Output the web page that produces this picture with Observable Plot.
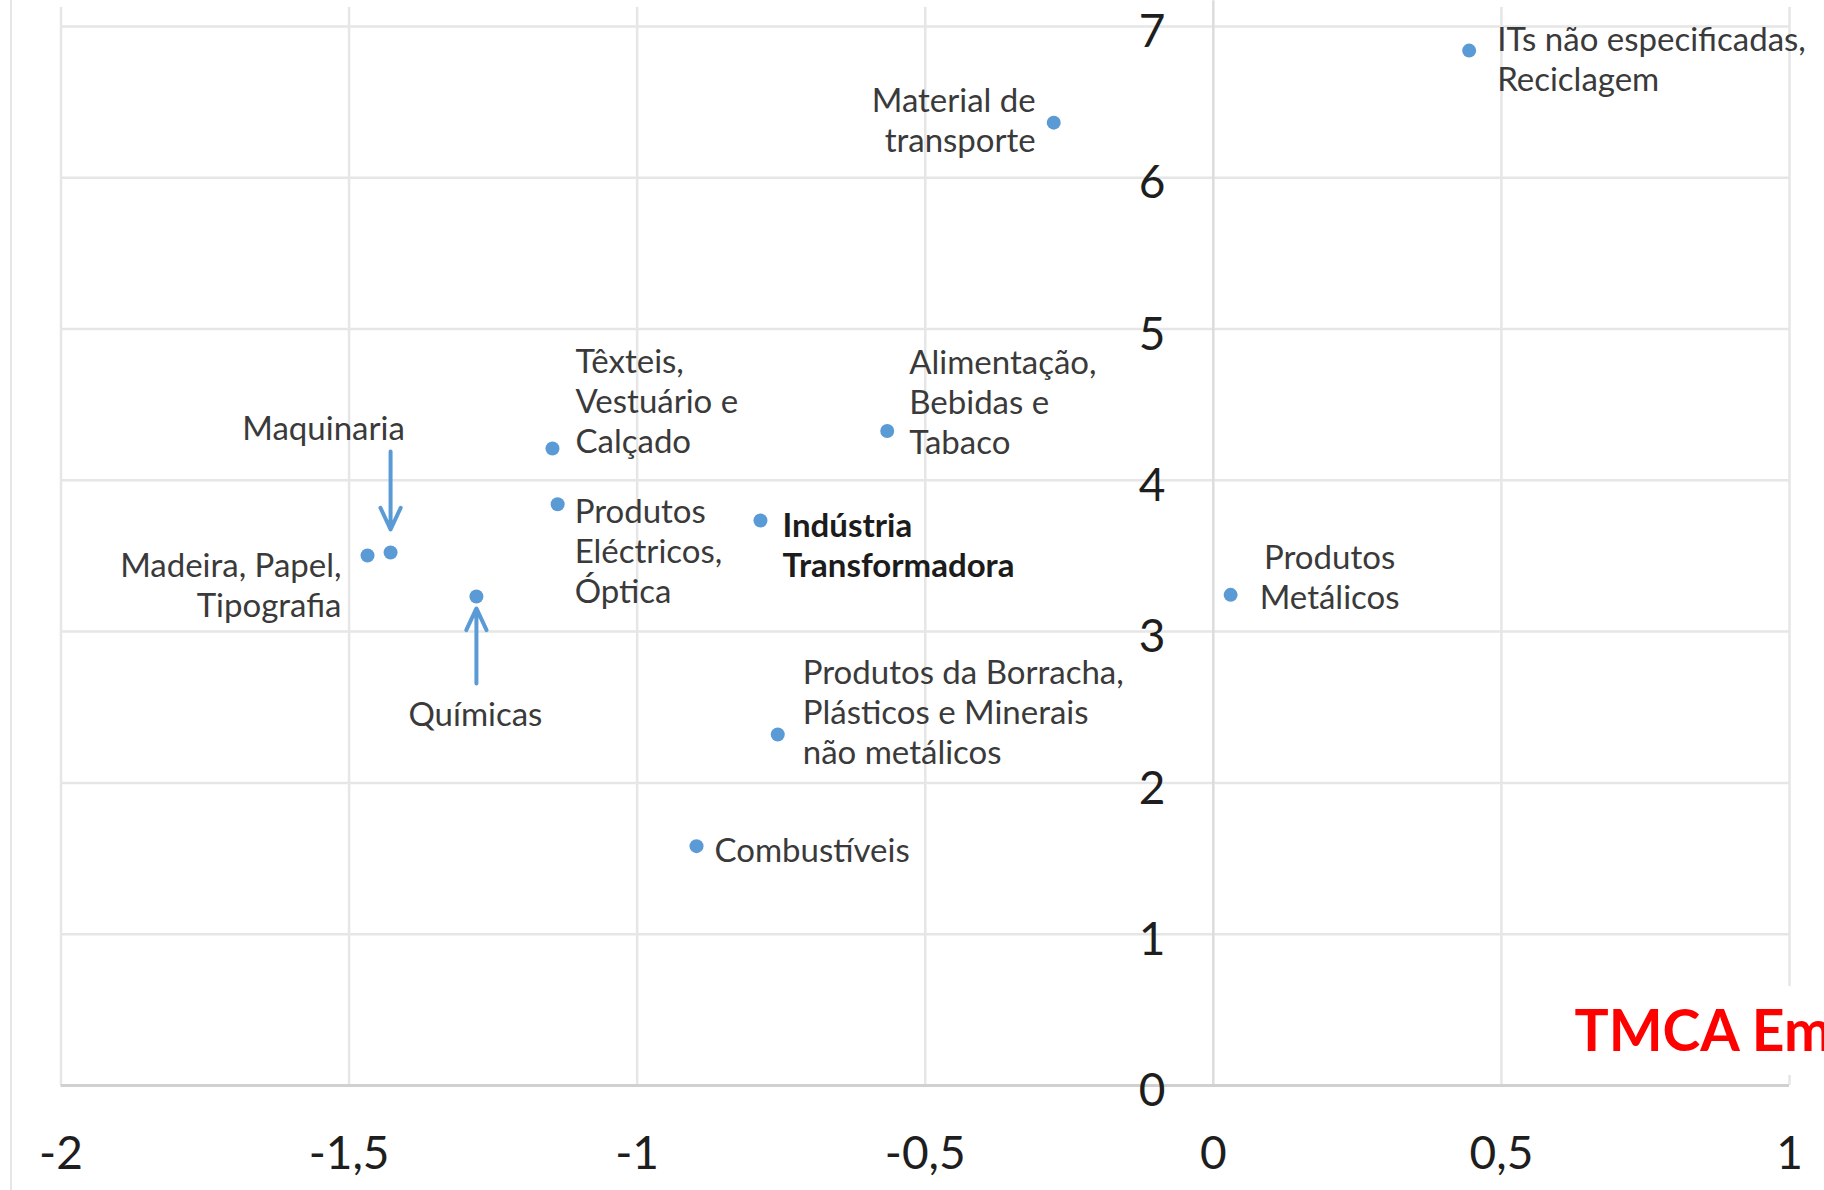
<!DOCTYPE html>
<html>
<head>
<meta charset="utf-8">
<script src="https://cdn.jsdelivr.net/npm/d3@7"></script>
<script src="https://cdn.jsdelivr.net/npm/@observablehq/plot@0.6"></script>
<style>
  html, body { margin: 0; padding: 0; background: #fff; overflow: hidden; }
  #wrap { position: relative; width: 1824px; height: 1190px; }
  #wrap .chart-border { position: absolute; left: 10px; top: 0; width: 0; height: 1190px; border-left: 2px solid #e6e6e6; }
</style>
</head>
<body>
<div id="wrap"><div class="chart-border"></div></div>
<script>
// ---- data ----
const sectors = [
  "ITs não especificadas,\nReciclagem",
  "Material de\ntransporte",
  "Alimentação,\nBebidas e\nTabaco",
  "Têxteis,\nVestuário e\nCalçado",
  "Produtos\nEléctricos,\nÓptica",
  "Indústria\nTransformadora",
  "Maquinaria",
  "Madeira, Papel,\nTipografia",
  "Químicas",
  "Produtos\nMetálicos",
  "Produtos da Borracha,\nPlásticos e Minerais\nnão metálicos",
  "Combustíveis"
];
const tmcaEmprego = [0.444, -0.277, -0.566, -1.147, -1.138, -0.786, -1.428, -1.468, -1.279, 0.030, -0.756, -0.897];
const tmcaOutro   = [6.84, 6.364, 4.326, 4.21, 3.842, 3.734, 3.523, 3.503, 3.232, 3.243, 2.32, 1.582];

const xTicks = [-2, -1.5, -1, -0.5, 0, 0.5, 1];
const xTickLabels = ["-2", "-1,5", "-1", "-0,5", "0", "0,5", "1"];
const yTicks = [0, 1, 2, 3, 4, 5, 6, 7];
const yTickLabels = ["0", "1", "2", "3", "4", "5", "6", "7"];

const axisTitle = "TMCA Em";

// annotation arrows (value at tail, value at head), same x as the sector
const arrowSectors = ["Maquinaria", "Químicas"];
const arrowFrom = [4.19, 2.657];
const arrowTo   = [3.675, 3.153];

// ---- layout (label placement relative to each point, in px) ----
const labelLayout = [
  {dx: 28,  dy: 8,    anchor: "start"},
  {dx: -18, dy: -3,   anchor: "end"},
  {dx: 22,  dy: -30,  anchor: "start"},
  {dx: 23,  dy: -48,  anchor: "start"},
  {dx: 17,  dy: 46,   anchor: "start"},
  {dx: 22,  dy: 24,   anchor: "start", bold: true},
  {dx: -67, dy: -125, anchor: "middle"},
  {dx: -26, dy: 29,   anchor: "end"},
  {dx: -1,  dy: 117,  anchor: "middle"},
  {dx: 99,  dy: -19,  anchor: "middle"},
  {dx: 25,  dy: -23,  anchor: "start"},
  {dx: 18,  dy: 3,    anchor: "start"}
];

const points = sectors.map((s, i) => ({name: s, x: tmcaEmprego[i], y: tmcaOutro[i]}));
const arrows = arrowSectors.map((n, i) => {
  const p = points.find(d => d.name === n);
  return {x: p.x, y1: arrowFrom[i], y2: arrowTo[i]};
});

const blue = "#5b9bd5";
const gridColor = "#e6e6e6";

const labelMarks = points.map((p, i) => {
  const L = labelLayout[i];
  return Plot.text([p], {
    x: "x", y: "y", text: "name",
    dx: L.dx, dy: L.dy, textAnchor: L.anchor,
    lineAnchor: "middle", lineHeight: 1.21,
    fontSize: 33, fontWeight: L.bold ? "bold" : "normal",
    fill: L.bold ? "#1c1c1c" : "#3a3a3a"
  });
});

const chart = Plot.plot({
  width: 1824,
  height: 1190,
  marginLeft: 60.5,
  marginRight: 35,
  marginTop: 7,
  marginBottom: 105,
  x: {domain: [-2, 1], axis: null},
  y: {domain: [0, 7.125], axis: null},
  style: {fontFamily: "Lato, 'Open Sans', sans-serif", background: "white", overflow: "hidden"},
  marks: [
    Plot.ruleY(yTicks.filter(d => d !== 0), {stroke: gridColor, strokeWidth: 2.5}),
    Plot.ruleX(xTicks.filter(d => d !== 0), {stroke: gridColor, strokeWidth: 2.5}),
    Plot.text([axisTitle], {
      frameAnchor: "bottom-right", dx: -215, dy: -35, textAnchor: "start",
      fill: "#ff0000", fontWeight: "bold", fontSize: 57,
      stroke: "white", strokeWidth: 48, paintOrder: "stroke"
    }),
    Plot.ruleX([0], {y1: 0, y2: 7.17, stroke: "#dcdcdc", strokeWidth: 2.5}),
    Plot.ruleY([0], {stroke: "#d0d0d0", strokeWidth: 3}),
    Plot.arrow(arrows, {
      x1: "x", x2: "x", y1: "y1", y2: "y2",
      stroke: blue, strokeWidth: 4, headAngle: 50, headLength: 9
    }),
    Plot.dot(points, {x: "x", y: "y", r: 7, fill: blue}),
    ...labelMarks,
    Plot.text(yTicks, {
      x: 0, y: d => d, text: (d, i) => yTickLabels[i],
      dx: -48, dy: 6, textAnchor: "end", fontSize: 46, fill: "#1e1e1e"
    }),
    Plot.text(xTicks, {
      x: d => d, y: 0, text: (d, i) => xTickLabels[i],
      dy: 69, textAnchor: "middle", fontSize: 46, fill: "#1e1e1e"
    })
  ]
});

document.getElementById("wrap").appendChild(chart);
</script>
</body>
</html>
